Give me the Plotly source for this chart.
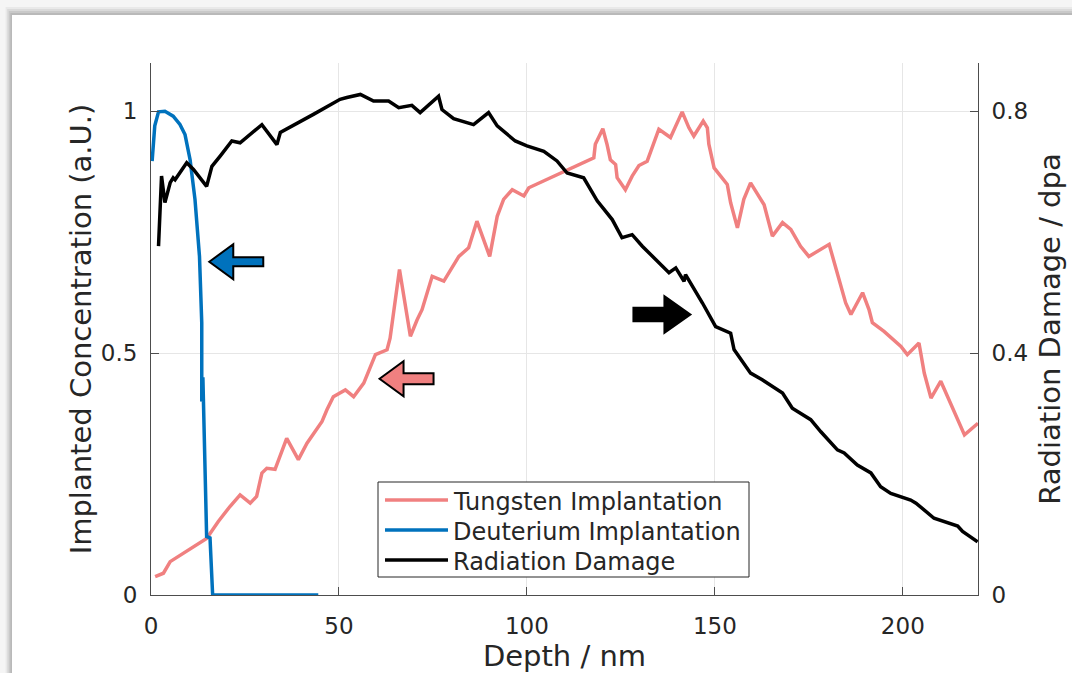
import plotly.graph_objects as go

# ---------------- data ----------------
series_names = ["Tungsten Implantation", "Deuterium Implantation", "Radiation Damage"]

depth_W = [1.1, 3.3, 5.1, 14.8, 17.9, 21.0, 23.7, 26.4, 28.1, 29.5, 30.8, 33.0, 36.1, 39.2, 41.5,
           45.5, 46.8, 48.5, 51.7, 53.9, 56.6, 59.7, 62.8, 63.6, 66.1, 69.0, 70.8, 72.1, 74.8, 77.9,
           81.9, 84.5, 86.7, 90.1, 92.1, 93.8, 96.1, 99.2, 100.5, 109.8, 117.8, 118.2, 120.2, 121.3,
           122.2, 123.6, 124.0, 126.2, 128.0, 129.8, 132.0, 135.1, 138.2, 141.3, 143.1, 144.4, 146.9,
           148.0, 148.4, 149.8, 153.3, 154.2, 156.0, 157.7, 159.5, 163.1, 165.3, 168.0, 170.2, 172.8,
           175.0, 180.4, 181.3, 183.0, 184.8, 186.2, 189.3, 191.0, 191.9, 195.0, 199.5, 201.2, 204.3,
           205.7, 207.5, 210.1, 212.8, 214.6, 216.4, 220.0]
conc_W = [0.038, 0.045, 0.069, 0.117, 0.152, 0.183, 0.207, 0.19, 0.204, 0.252, 0.262, 0.26, 0.324,
          0.28, 0.314, 0.359, 0.383, 0.41, 0.424, 0.41, 0.438, 0.497, 0.507, 0.531, 0.673, 0.535,
          0.569, 0.59, 0.659, 0.649, 0.70, 0.718, 0.773, 0.70, 0.783, 0.818, 0.838, 0.825, 0.842,
          0.876, 0.904, 0.932, 0.964, 0.932, 0.90, 0.89, 0.863, 0.838, 0.866, 0.888, 0.897, 0.963,
          0.946, 0.999, 0.966, 0.949, 0.98, 0.966, 0.932, 0.883, 0.849, 0.811, 0.759, 0.818, 0.852,
          0.807, 0.742, 0.77, 0.756, 0.721, 0.70, 0.725, 0.70, 0.652, 0.604, 0.58, 0.625, 0.59,
          0.563, 0.545, 0.514, 0.497, 0.521, 0.459, 0.407, 0.442, 0.393, 0.362, 0.331, 0.355]

depth_D = [0.3, 1.0, 2.0, 3.7, 5.9, 7.7, 9.05, 10.4, 11.7, 12.9, 13.5, 13.6, 13.5, 13.8, 14.8,
           15.7, 16.4, 44.5]
conc_D = [0.897, 0.97, 0.999, 1.0, 0.99, 0.973, 0.952, 0.90, 0.818, 0.70, 0.563, 0.46, 0.40,
          0.45, 0.121, 0.118, 0.0, 0.0]

depth_R = [2.0, 2.8, 3.7, 5.1, 5.9, 6.4, 9.5, 11.3, 14.8, 16.2, 18.4, 21.5, 23.7, 29.5, 33.5, 34.4,
           43.2, 50.3, 52.1, 55.7, 59.2, 63.2, 65.9, 69.4, 71.6, 76.5, 77.4, 80.5, 85.8, 89.8, 92.1,
           96.9, 100.0, 104.5, 108.0, 110.7, 115.1, 118.7, 122.7, 125.3, 128.0, 130.7, 137.8, 139.6,
           141.8, 142.2, 146.7, 150.2, 154.2, 155.1, 159.5, 162.6, 168.0, 170.6, 175.5, 178.2, 182.6,
           184.4, 187.9, 191.5, 194.1, 196.8, 202.1, 203.5, 208.3, 214.6, 215.9, 219.9]
dpa_R = [0.577, 0.693, 0.649, 0.682, 0.69, 0.687, 0.715, 0.704, 0.676, 0.709, 0.726, 0.751, 0.748,
         0.778, 0.745, 0.765, 0.795, 0.82, 0.823, 0.828, 0.817, 0.817, 0.806, 0.81, 0.798, 0.825,
         0.803, 0.788, 0.778, 0.798, 0.776, 0.751, 0.743, 0.734, 0.718, 0.698, 0.69, 0.652, 0.621,
         0.591, 0.596, 0.577, 0.533, 0.541, 0.519, 0.53, 0.483, 0.444, 0.433, 0.406, 0.367, 0.356,
         0.334, 0.309, 0.29, 0.27, 0.24, 0.235, 0.215, 0.202, 0.179, 0.168, 0.157, 0.152, 0.127,
         0.114, 0.105, 0.088]

x_ticks = [0, 50, 100, 150, 200]
y_ticks = [0, 0.5, 1]
y_ticklabels = ["0", "0.5", "1"]
y2_ticks = [0, 0.4, 0.8]
y2_ticklabels = ["0", "0.4", "0.8"]

# arrow anchors (data coordinates, left axis)
arrow_D = (15.5, 0.689)
arrow_W = (60.8, 0.447)
arrow_R = (143.5, 0.58)

# ---------------- styles ----------------
C_W = "#F08080"
C_D = "#0072BD"
C_R = "#000000"
colors = [C_W, C_D, C_R]
TXT = "#262626"
AX = "#4d4d4d"
FONT = "DejaVu Sans"
LW = 3.5

fig = go.Figure()
fig.add_trace(go.Scatter(x=depth_W, y=conc_W, mode="lines", name=series_names[0],
                         line=dict(color=C_W, width=LW), showlegend=False))
fig.add_trace(go.Scatter(x=depth_D, y=conc_D, mode="lines", name=series_names[1],
                         line=dict(color=C_D, width=LW), showlegend=False))
fig.add_trace(go.Scatter(x=depth_R, y=dpa_R, mode="lines", name=series_names[2], yaxis="y2",
                         line=dict(color=C_R, width=LW), showlegend=False))

L, R, T, B = 151, 94, 63, 78
W, H = 1072, 673
pw, ph = W - L - R, H - T - B


def px2paper(px, py):
    return (px - L) / pw, (H - B - py) / ph


shapes = []
annotations = []
# window-like background + drop shadow
x0, y0 = px2paper(-5, -5)
x1, y1 = px2paper(W + 5, H + 5)
shapes.append(dict(type="rect", xref="paper", yref="paper", x0=x0, x1=x1, y0=y1, y1=y0,
                   fillcolor="#f5f5f5", line_width=0, layer="below"))
bands = [(7, "#e9e9e9"), (9, "#dadada"), (11, "#c9c9c9"), (13, "#b9b9b9")]
for off, col in bands:
    bx0, by0 = px2paper(12 - (15 - off) * 0.8, off)
    bx1, by1 = px2paper(W + 5, H + 5)
    shapes.append(dict(type="rect", xref="paper", yref="paper", x0=bx0, x1=bx1, y0=by1, y1=by0,
                       fillcolor=col, line_width=0, layer="below"))
wx0, wy0 = px2paper(12, 15)
shapes.append(dict(type="rect", xref="paper", yref="paper", x0=wx0, x1=x1, y0=y1, y1=wy0,
                   fillcolor="white", line_width=0, layer="below"))


def left_arrow(head, half_head, half_shaft, length):
    return (f"M0,0 L{head},{half_head} L{head},{half_shaft} L{length},{half_shaft} "
            f"L{length},{-half_shaft} L{head},{-half_shaft} L{head},{-half_head} Z")


def right_arrow(head, half_head, half_shaft, length):
    return (f"M0,0 L{-head},{half_head} L{-head},{half_shaft} L{-length},{half_shaft} "
            f"L{-length},{-half_shaft} L{-head},{-half_shaft} L{-head},{-half_head} Z")


for (ax, ay), path, fill in [
    (arrow_D, left_arrow(24, 17.5, 4.5, 54), C_D),
    (arrow_W, left_arrow(24, 17.5, 5.5, 54), C_W),
    (arrow_R, right_arrow(26, 18.3, 6.7, 57), C_R),
]:
    shapes.append(dict(type="path", xref="x", yref="y", xsizemode="pixel", ysizemode="pixel",
                       xanchor=ax, yanchor=ay, path=path, fillcolor=fill,
                       line=dict(color="black", width=2), layer="above"))

# legend box (MATLAB style)
lx0, ly0 = px2paper(378, 482)
lx1, ly1 = px2paper(749, 577)
shapes.append(dict(type="rect", xref="paper", yref="paper", x0=lx0, x1=lx1, y0=ly1, y1=ly0,
                   fillcolor="white", line=dict(color=TXT, width=1), layer="above"))
for i, (name, col) in enumerate(zip(series_names, colors)):
    row_y = 500 + 30 * i
    sx0, sy = px2paper(385, row_y)
    sx1, _ = px2paper(448, row_y)
    shapes.append(dict(type="line", xref="paper", yref="paper", x0=sx0, x1=sx1, y0=sy, y1=sy,
                       line=dict(color=col, width=LW), layer="above"))
    tx, ty = px2paper(451, row_y + 2)
    annotations.append(dict(xref="paper", yref="paper", x=tx, y=ty, text=name, showarrow=False,
                            xanchor="left", yanchor="middle",
                            font=dict(family=FONT, size=24, color=TXT)))

fig.update_layout(
    width=W, height=H,
    margin=dict(l=L, r=R, t=T, b=B, pad=0, autoexpand=False),
    paper_bgcolor="white", plot_bgcolor="white",
    font=dict(family=FONT, color=TXT, size=22),
    shapes=shapes,
    annotations=annotations,
    showlegend=False,
    xaxis=dict(range=[0, 220], tickvals=x_ticks, ticks="inside", ticklen=8, tickcolor=AX,
               showline=True, linecolor=AX, linewidth=1, mirror=False, automargin=False,
               showgrid=True, gridcolor="#e6e6e6", zeroline=False,
               tickfont=dict(size=23), ticklabelstandoff=10,
               title=dict(text="Depth / nm", font=dict(size=29), standoff=12)),
    yaxis=dict(range=[0, 1.1], tickvals=y_ticks, ticktext=y_ticklabels, ticks="inside",
               ticklen=8, tickcolor=AX, showline=True, linecolor=AX, linewidth=1,
               automargin=False,
               showgrid=True, gridcolor="#e6e6e6", zeroline=False,
               tickfont=dict(size=23), ticklabelstandoff=8,
               title=dict(text="Implanted Concentration (a.U.)", font=dict(size=29), standoff=0)),
    yaxis2=dict(range=[0, 0.88], tickvals=y2_ticks, ticktext=y2_ticklabels, overlaying="y",
                side="right", ticks="inside", ticklen=8, tickcolor=AX, showline=True,
                linecolor=AX, linewidth=1, showgrid=False, zeroline=False, automargin=False,
                tickfont=dict(size=23), ticklabelstandoff=8,
                title=dict(text="Radiation Damage / dpa", font=dict(size=29), standoff=12)),
)

fig.write_html("out.html")
